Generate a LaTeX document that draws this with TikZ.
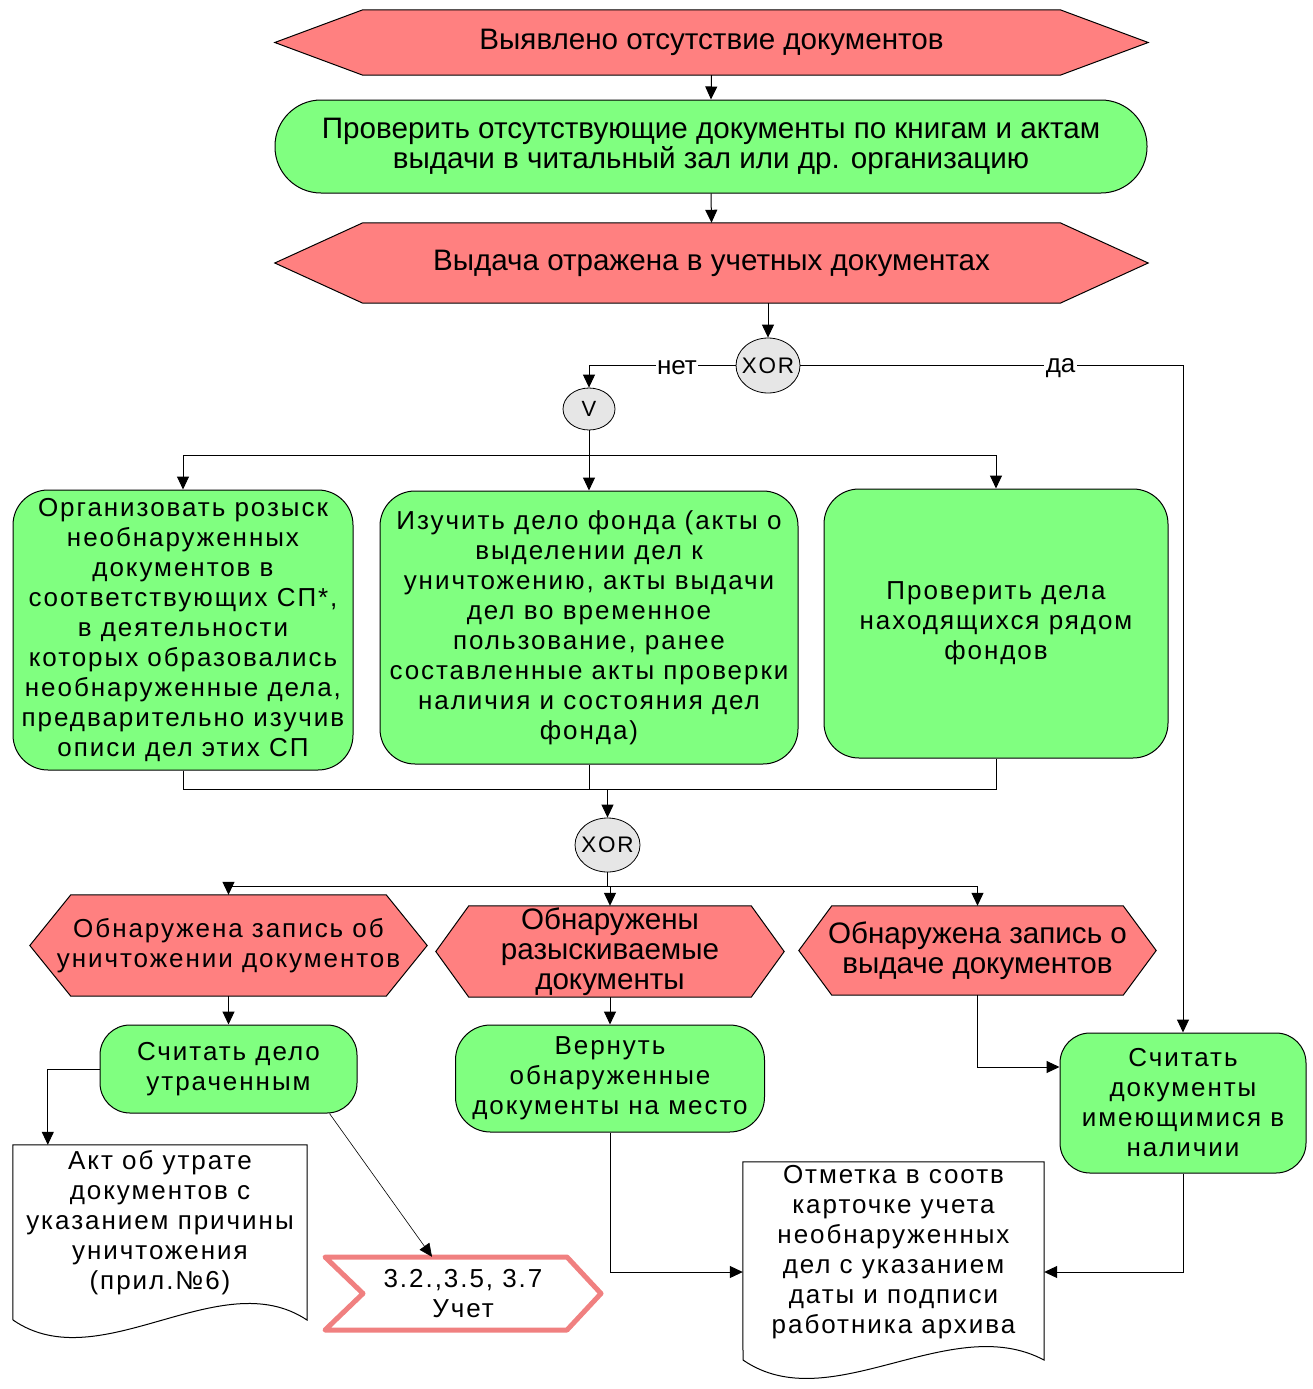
\documentclass[tikz,border=0pt]{standalone}
\usepackage{fontspec}
\setmainfont{Liberation Sans}
\newfontfamily\widefont[LetterSpace=7.5]{Liberation Sans}
\usetikzlibrary{arrows.meta,shapes.geometric,calc,backgrounds}
\definecolor{hexred}{HTML}{FF8080}
\definecolor{boxgreen}{HTML}{80FF80}
\definecolor{gategray}{HTML}{E6E6E6}
\definecolor{pinkline}{HTML}{F08080}
\newcommand\fnorm{\fontsize{29.6}{30}\selectfont}
\newcommand\fwide{\widefont\fontsize{26}{30}\selectfont}
\newcommand\hexdraw[2]{\draw[line width=1pt, fill=hexred] (#1.west) -- ([xshift=#2pt]#1.north west) -- ([xshift=-#2pt]#1.north east) -- (#1.east) -- ([xshift=-#2pt]#1.south east) -- ([xshift=#2pt]#1.south west) -- cycle;}
\begin{document}
\begin{tikzpicture}[x=1pt,y=-1pt,
  txt/.style={inner sep=0pt, align=center, text=black},
  hexnode/.style={txt},
  gbox/.style={txt, draw, fill=boxgreen, rounded corners=#1, line width=1pt},
  gate/.style={ellipse, draw, fill=gategray, inner sep=-4pt, line width=0.8pt},
  conn/.style={-{Triangle[length=13pt,width=12pt]}, line width=1pt},
  plain/.style={line width=1pt},
  lbl/.style={fill=white, inner sep=1.5pt, yshift=-2.5pt, font=\fontsize{26}{28}\selectfont},
  docline/.style={line width=1pt, fill=white}]
\useasboundingbox (0,0) rectangle (1312,1389);

% top
\node[hexnode, font=\fnorm, minimum width=873pt, minimum height=65pt] (h1) at (711.5,42.5) {Выявлено отсутствие документов};
\node[gbox=46pt, font=\fnorm, minimum width=872pt, minimum height=93pt] (s1) at (711,146.5) {Проверить отсутствующие документы по книгам и актам\\выдачи в читальный зал или др. организацию};
\node[hexnode, font=\fnorm, minimum width=873pt, minimum height=80pt] (h2) at (711.5,263) {Выдача отражена в учетных документах};
\node[gate, minimum width=64pt, minimum height=55pt, font=\widefont\fontsize{22.5}{25}\selectfont] (x1) at (768,365.5) {XOR};
\node[gate, minimum width=52pt, minimum height=42pt, font=\fontsize{22}{24}\selectfont] (v1) at (589,409) {V};

% three task boxes
\node[gbox=35pt, font=\fwide, minimum width=340pt, minimum height=280pt] (A) at (183,630) {Организовать розыск\\необнаруженных\\документов в\\соответствующих СП*,\\в деятельности\\которых образовались\\необнаруженные дела,\\предварительно изучив\\описи дел этих СП};
\node[gbox=35pt, font=\fwide, minimum width=418pt, minimum height=273pt] (B) at (589,627.5) {Изучить дело фонда (акты о\\выделении дел к\\уничтожению, акты выдачи\\дел во временное\\пользование, ранее\\составленные акты проверки\\наличия и состояния дел\\фонда)};
\node[gbox=35pt, font=\fwide, minimum width=344pt, minimum height=269pt] (C) at (996,623.5) {Проверить дела\\находящихся рядом\\фондов};

\node[gate, minimum width=65pt, minimum height=54pt, font=\widefont\fontsize{22.5}{25}\selectfont] (x2) at (607.5,845) {XOR};

% events
\node[hexnode, font=\fwide, minimum width=397pt, minimum height=101pt] (D) at (228.5,945.5) {Обнаружена запись об\\уничтожении документов};
\node[hexnode, font=\fnorm, minimum width=348pt, minimum height=91pt] (E) at (610,951.5) {Обнаружены\\разыскиваемые\\документы};
\node[hexnode, font=\fnorm, minimum width=357pt, minimum height=89pt] (F) at (977.5,950.5) {Обнаружена запись о\\выдаче документов};

% lower tasks
\node[gbox=30pt, font=\fwide, minimum width=257pt, minimum height=88pt] (G) at (228.5,1069) {Считать дело\\утраченным};
\node[gbox=35pt, font=\fwide, minimum width=309pt, minimum height=107pt] (J) at (610,1078.5) {Вернуть\\обнаруженные\\документы на место};
\node[gbox=30pt, font=\fwide, minimum width=246pt, minimum height=140pt] (L) at (1183,1103) {Считать\\документы\\имеющимися в\\наличии};

% documents
\node[txt, minimum width=294pt, minimum height=196pt] (H) at (160,1243) {};
\node[txt, font=\fwide] (Ht) at (160,1223) {Акт об утрате\\документов с\\указанием причины\\уничтожения\\(прил.№6)};
\node[txt, minimum width=301pt, minimum height=220pt] (K) at (893.5,1272) {};
\node[txt, font=\fwide] (Kt) at (893.5,1252) {Отметка в соотв\\карточке учета\\необнаруженных\\дел с указанием\\даты и подписи\\работника архива};
\node[txt, font=\fwide, minimum width=276pt, minimum height=73pt] (I) at (463,1293.5) {3.2.,3.5, 3.7\\Учет};

\begin{scope}[on background layer]
  \hexdraw{h1}{88}
  \hexdraw{h2}{88}
  \hexdraw{D}{41}
  \hexdraw{E}{33}
  \hexdraw{F}{33}
  \draw[docline] (H.north west) -- (H.north east) -- (307,1320) .. controls (220,1262) and (100,1380) .. (13,1320) -- cycle;
  \draw[docline] (K.north west) -- (K.north east) -- (1044,1360) .. controls (950,1310) and (830,1420) .. (743,1360) -- cycle;
  \draw[pinkline, line width=5pt, fill=white, line join=round] (325,1257) -- (567,1257) -- (601,1293.5) -- (567,1330) -- (325,1330) -- (363,1293.5) -- cycle;
\end{scope}

% connectors
\draw[conn] (h1.south) -- (s1.north);
\draw[conn] (s1.south) -- (h2.north);
\draw[conn] (x1.north |- h2.south) -- (x1.north);
\draw[conn] (x1.west) -| node[lbl, pos=0.2] (lno) {нет} (v1.north);
\draw[conn] (x1.east) -| node[lbl, pos=0.34] (lyes) {да} (L.north);
\coordinate (b1) at (589,455);
\draw[plain] (v1.south) -- (b1);
\draw[conn] (b1) -| (A.north);
\draw[conn] (b1) -- (B.north);
\draw[conn] (b1) -| (C.north);
\coordinate (m1) at (607.5,789);
\draw[plain] (A.south) |- (m1);
\draw[plain] (B.south) |- (m1);
\draw[plain] (C.south) |- (m1);
\draw[conn] (m1) -- (x2.north);
\coordinate (b2) at (607.5,886);
\draw[plain] (x2.south) -- (b2);
\draw[plain] (D.north |- b2) -- (F.north |- b2);
\draw[conn] (D.north |- b2) -- (D.north);
\draw[conn] (E.north |- b2) -- (E.north);
\draw[conn] (F.north |- b2) -- (F.north);
\draw[conn] (D.south) -- (G.north);
\draw[conn] (E.south) -- (J.north);
\draw[conn] (G.west) -| ($(H.north west)+(35,0)$);
\draw[conn, line width=0.6pt] ($(G.south)+(101,0)$) -- ($(I.north)+(-31,0)$);
\draw[conn] (J.south) |- (K.west);
\draw[conn] (F.south) |- ($(L.west)+(0,-36)$);
\draw[conn] (L.south) |- (K.east);
\end{tikzpicture}
\end{document}
